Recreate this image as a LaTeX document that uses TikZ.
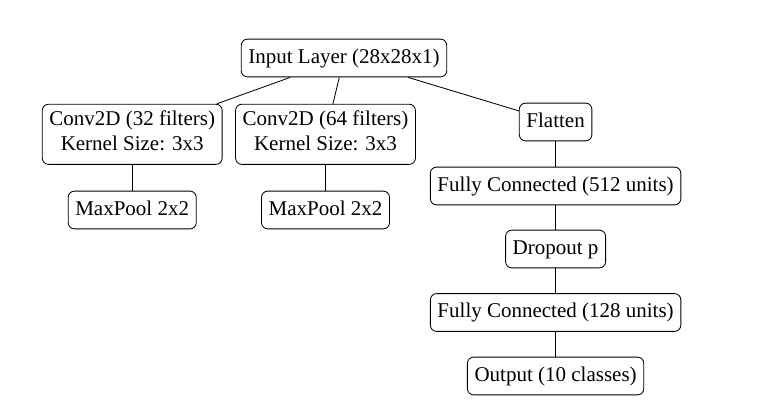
\documentclass[tikz,border=0pt]{standalone}
\usepackage{fontspec}
\setmainfont{Liberation Serif}
\begin{document}
\begin{tikzpicture}[x={(0.47619pt,0)},y={(0,-0.47619pt)},
  layer/.style={draw,rounded corners=3pt,align=center,font=\fontsize{10pt}{12pt}\selectfont,inner xsep=3.4pt,inner ysep=3pt,line width=0.4pt,
    execute at begin node={\strut},execute at end node={\strut}},
  link/.style={draw,line width=0.4pt}]
\useasboundingbox (0,0) rectangle (765,407);
\node[layer] (inp) at (344,58) {Input Layer (28x28x1)};
\node[layer] (c1) at (132.2,134.3) {Conv2D (32 filters)\\Kernel Size: 3x3};
\node[layer] (c2) at (325.5,134.3) {Conv2D (64 filters)\\Kernel Size: 3x3};
\node[layer] (m1) at (132.2,210) {MaxPool 2x2};
\node[layer] (m2) at (325.5,210) {MaxPool 2x2};
\node[layer] (fl) at (555.6,122) {Flatten};
\node[layer] (fc1) at (555.6,186) {Fully Connected (512 units)};
\node[layer] (dr) at (555.6,249) {Dropout p};
\node[layer] (fc2) at (555.6,312.5) {Fully Connected (128 units)};
\node[layer] (out) at (555.6,376) {Output (10 classes)};
\draw[link] (inp) -- (c1);
\draw[link] (inp) -- (c2);
\draw[link] (inp) -- (fl);
\draw[link] (c1) -- (m1);
\draw[link] (c2) -- (m2);
\draw[link] (fl) -- (fc1);
\draw[link] (fc1) -- (dr);
\draw[link] (dr) -- (fc2);
\draw[link] (fc2) -- (out);
\end{tikzpicture}
\end{document}
